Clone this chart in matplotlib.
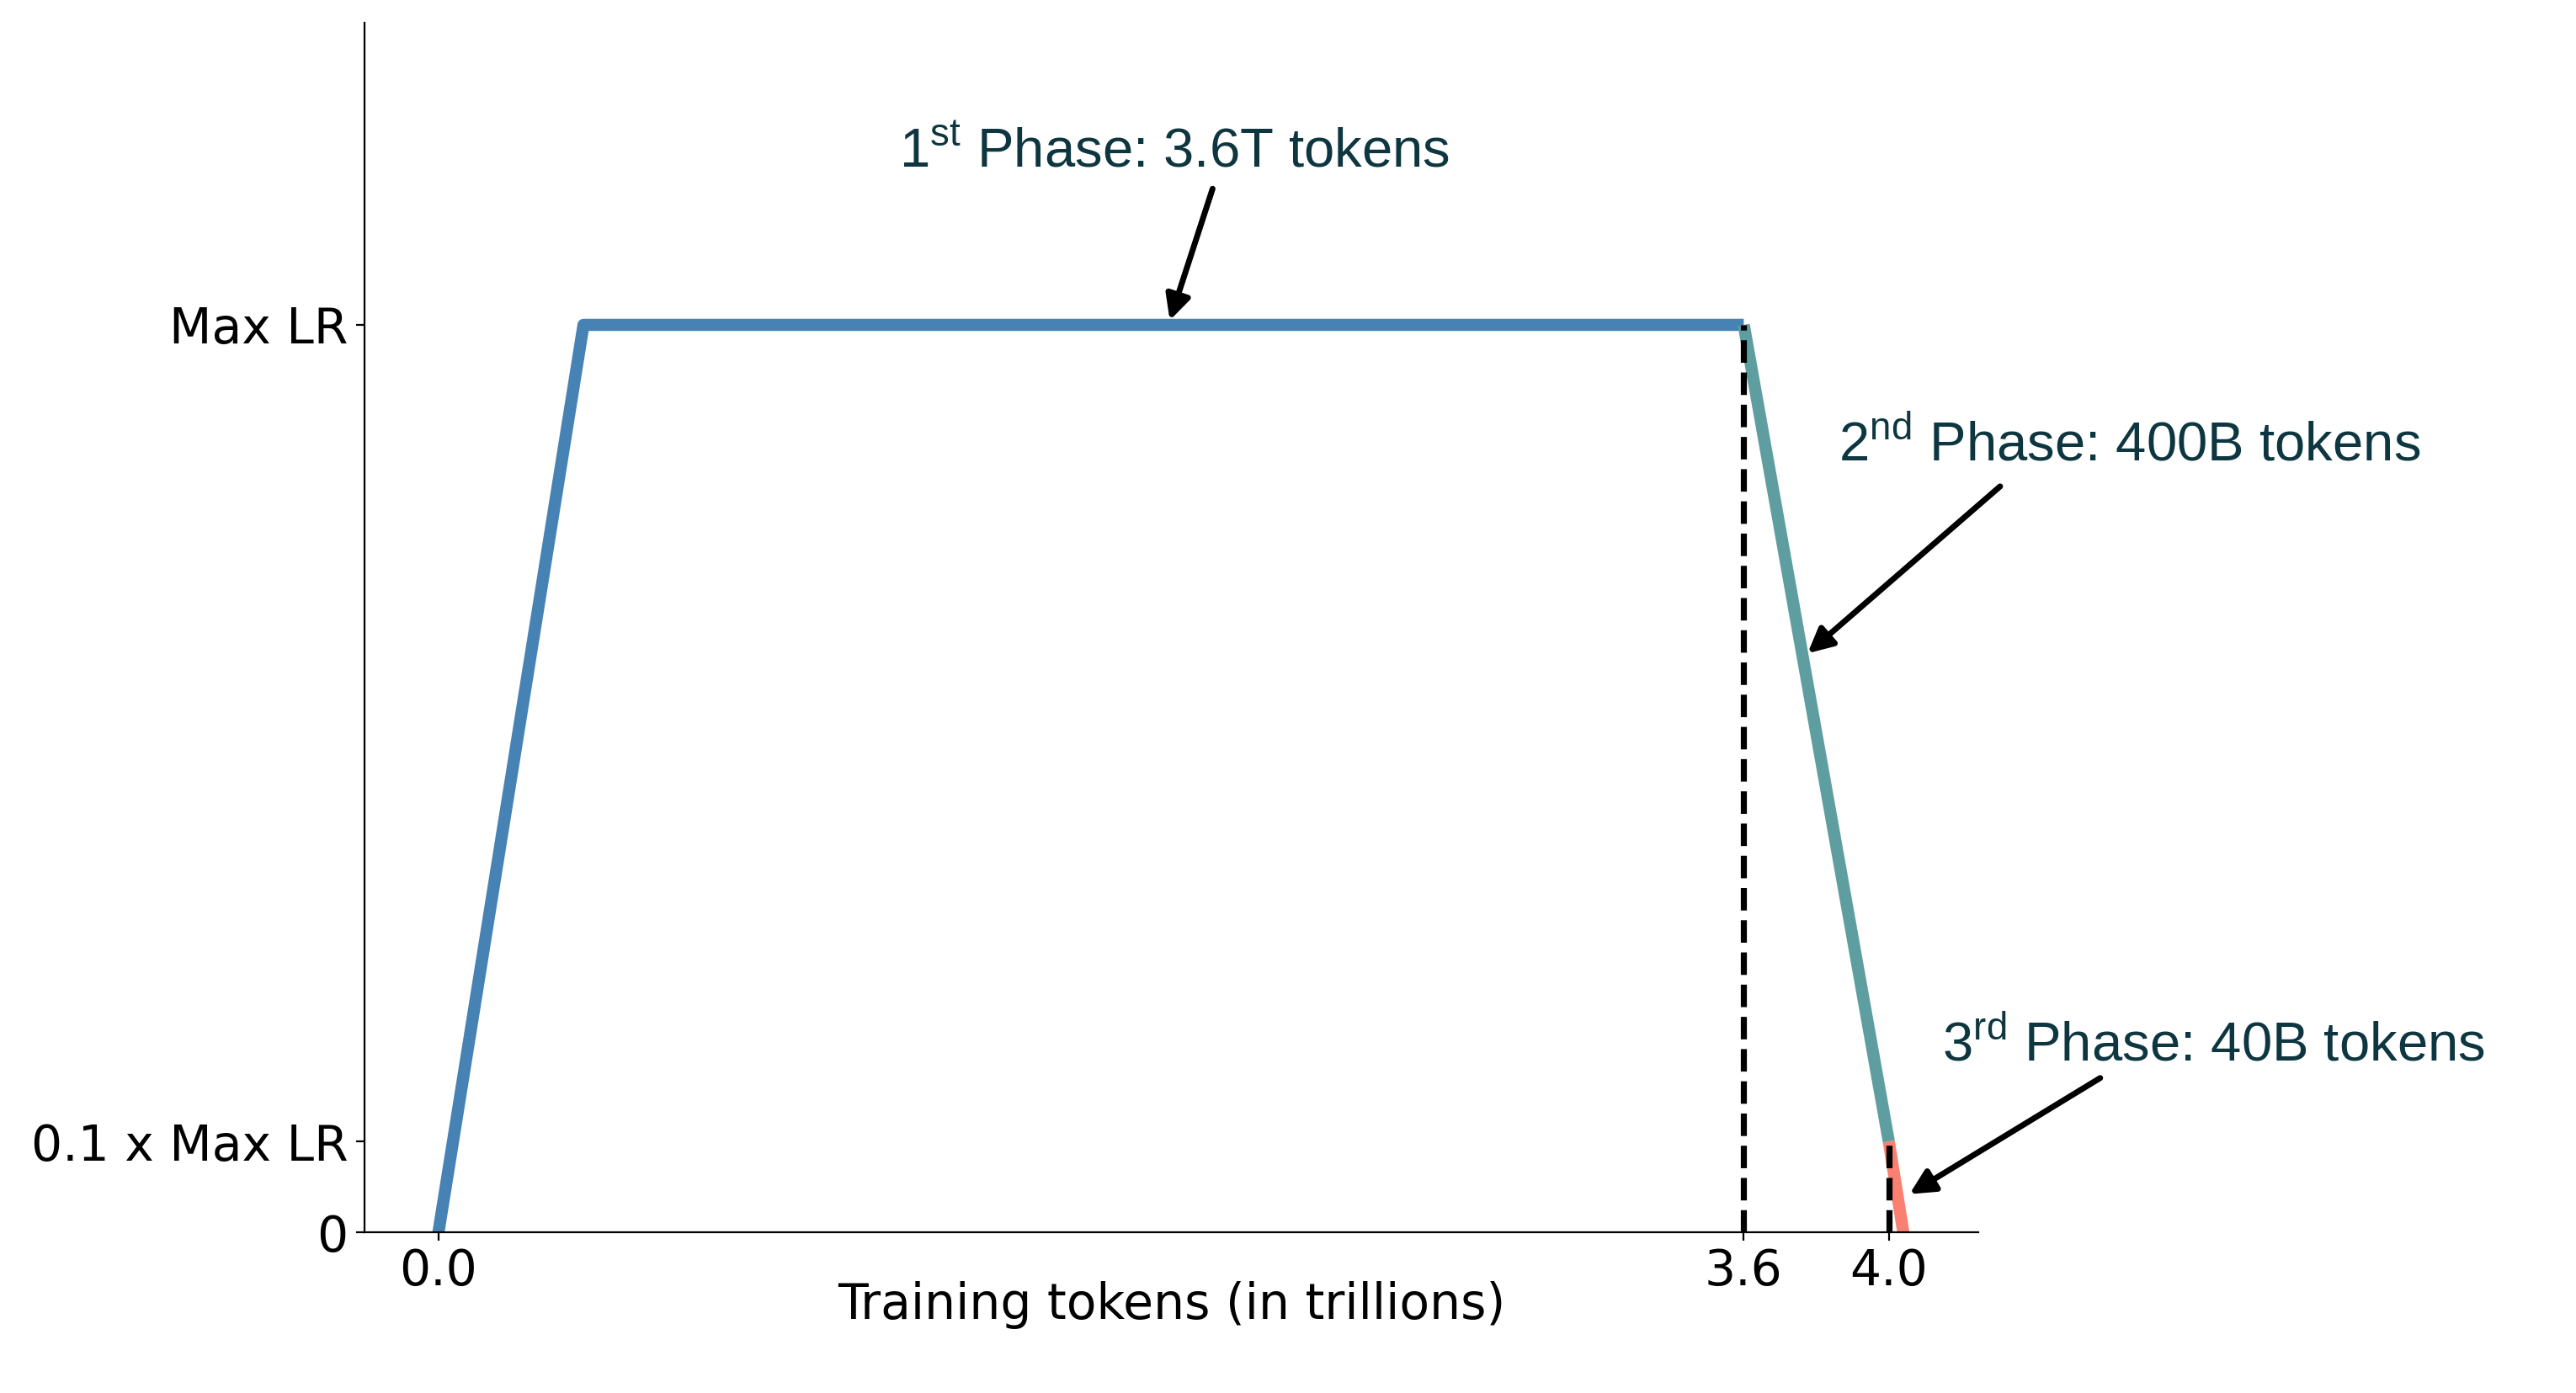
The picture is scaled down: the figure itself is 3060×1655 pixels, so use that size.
import matplotlib.pyplot as plt

plt.rcParams['mathtext.fontset'] = 'custom'
plt.rcParams['mathtext.rm'] = 'Liberation Sans'

# learning rate schedule (x in trillions of tokens, y as fraction of max LR)
warm_x = [0.0, 0.4, 3.6]
warm_y = [0.0, 1.0, 1.0]
decay_x = [3.6, 4.0]
decay_y = [1.0, 0.1]
final_x = [4.0, 4.04]
final_y = [0.1, 0.0]

xticks = [0.0, 3.6, 4.0]
xticklabels = ['0.0', '3.6', '4.0']
yticks = [0, 0.1, 1.0]
yticklabels = ['0', '0.1 x Max LR', 'Max LR']

notes = [r'1$^{\mathrm{st}}$ Phase: 3.6T tokens',
         r'2$^{\mathrm{nd}}$ Phase: 400B tokens',
         r'3$^{\mathrm{rd}}$ Phase: 40B tokens']
note_xy = [(2.017, 1.005), (3.776, 0.638), (4.057, 0.042)]
note_text = [(2.03, 1.19), (4.665, 0.868), (4.896, 0.207)]
tail = [(2.135, 1.15), (4.307, 0.822), (4.583, 0.17)]

fig = plt.figure(figsize=(15.3, 8.275), dpi=200)
ax = fig.add_axes([0.1415, 0.1154, 0.768 - 0.1415, 0.9837 - 0.1154])

ax.plot(warm_x, warm_y, color='steelblue', lw=5.2, solid_capstyle='butt')
ax.plot(decay_x, decay_y, color='cadetblue', lw=5.2, solid_capstyle='butt')
ax.plot(final_x, final_y, color='salmon', lw=5.2, solid_capstyle='butt')
ax.vlines(decay_x[0], 0, decay_y[0], colors='black', linestyles='--', lw=2.6)
ax.vlines(final_x[0], 0, final_y[0], colors='black', linestyles='--', lw=2.6)

ax.set_xlim(-0.204, 4.247)
ax.set_ylim(0, 1.333)
ax.set_xticks(xticks)
ax.set_xticklabels(xticklabels, fontsize=21)
ax.set_yticks(yticks)
ax.set_yticklabels(yticklabels, fontsize=21)
ax.tick_params(axis='x', pad=3)
ax.set_xlabel('Training tokens (in trillions)', fontsize=21, labelpad=-6)
ax.spines['top'].set_visible(False)
ax.spines['right'].set_visible(False)

for txt, xy, xt, tl in zip(notes, note_xy, note_text, tail):
    ax.text(xt[0], xt[1], txt, ha='center', va='center', fontsize=23.5,
            family='Liberation Sans', color='#0d3640')
    ax.annotate('', xy=xy, xytext=tl,
                arrowprops=dict(arrowstyle='-|>', color='black', lw=2.5,
                                mutation_scale=22, shrinkA=0, shrinkB=0),
                annotation_clip=False)

plt.savefig('out.png', dpi=200)
